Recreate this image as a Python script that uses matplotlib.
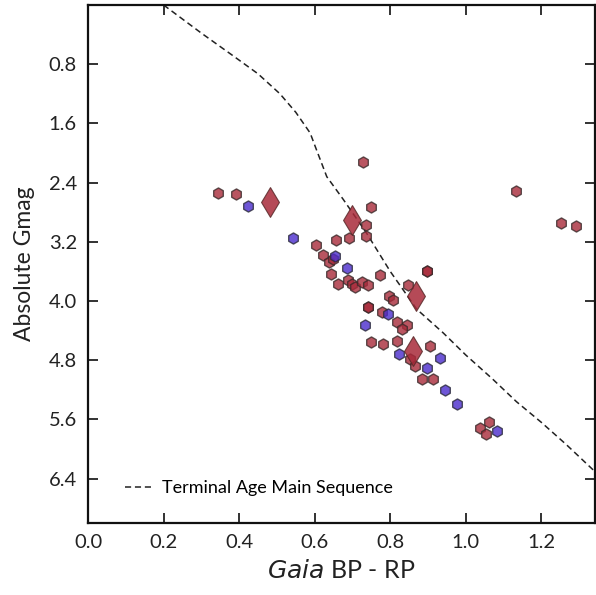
import matplotlib
matplotlib.use("Agg")
import matplotlib.pyplot as plt

plt.rcParams["font.family"] = ["Lato", "DejaVu Sans"]

# Terminal age main sequence track (BP-RP, absolute G)
tams_color = [0.20, 0.30, 0.385, 0.45, 0.508, 0.55, 0.588, 0.605, 0.632, 0.676,
              0.737, 0.80, 0.870, 0.94, 1.00, 1.07, 1.134, 1.20, 1.266, 1.345]
tams_gmag = [0.00, 0.38, 0.69, 0.93, 1.20, 1.45, 1.73, 1.96, 2.32, 2.63,
             3.08, 3.60, 4.11, 4.43, 4.73, 5.05, 5.36, 5.64, 5.94, 6.32]

# Red hexagons
red_color = [0.343, 0.391, 0.727, 1.134, 0.603, 0.656, 0.690, 0.750, 0.736, 0.737,
             0.623, 0.639, 0.648, 0.642, 0.662, 0.689, 0.698, 0.706, 0.724, 0.742,
             0.774, 0.896, 0.896, 0.847, 0.797, 0.806, 0.740, 0.740, 0.777, 0.819,
             0.845, 0.832, 0.750, 0.781, 0.818, 0.852, 0.865, 0.905, 0.883, 0.913,
             1.037, 1.061, 1.053, 1.251, 1.292]
red_gmag = [2.54, 2.56, 2.12, 2.52, 3.24, 3.18, 3.15, 2.73, 2.97, 3.12,
            3.38, 3.47, 3.43, 3.64, 3.77, 3.71, 3.77, 3.81, 3.74, 3.79,
            3.65, 3.59, 3.60, 3.79, 3.93, 3.98, 4.08, 4.08, 4.15, 4.28,
            4.32, 4.38, 4.55, 4.58, 4.54, 4.79, 4.88, 4.61, 5.06, 5.06,
            5.71, 5.64, 5.80, 2.95, 2.99]

# Blue hexagons
blue_color = [0.423, 0.542, 0.654, 0.685, 0.795, 0.734, 0.822, 0.933, 0.898, 0.945,
              0.976, 1.082]
blue_gmag = [2.72, 3.15, 3.39, 3.56, 4.18, 4.33, 4.71, 4.77, 4.90, 5.20,
             5.39, 5.75]

# Red diamonds
dia_color = [0.482, 0.700, 0.868, 0.861]
dia_gmag = [2.66, 2.90, 3.93, 4.68]

fig = plt.figure(figsize=(5.96, 5.95), dpi=100)
ax = fig.add_axes([0.1477, 0.121, 0.8506, 0.8706])

ax.plot(tams_color, tams_gmag, ls="--", color="#222222", lw=1.1,
        dashes=(4, 2.5), label="Terminal Age Main Sequence")

ax.scatter(red_color, red_gmag, marker="h", s=64, facecolor="#a82a3a",
           edgecolor="#3a2a2a", linewidths=1.0, alpha=0.8, zorder=3)
ax.scatter(blue_color, blue_gmag, marker="h", s=64, facecolor="#4a2ccc",
           edgecolor="#2a2a3a", linewidths=1.0, alpha=0.8, zorder=3)
ax.scatter(dia_color, dia_gmag, marker="d", s=230, facecolor="#a82a3a",
           edgecolor="#5a2a2a", linewidths=0.8, alpha=0.85, zorder=4)

ax.set_xlim(0.0, 1.342)
ax.set_ylim(7.0, 0.0)
ax.set_xticks([0.0, 0.2, 0.4, 0.6, 0.8, 1.0, 1.2])
ax.set_yticks([0.8, 1.6, 2.4, 3.2, 4.0, 4.8, 5.6, 6.4])
ax.tick_params(direction="in", top=True, right=True, length=7, width=1.3,
               labelsize=14.5, pad=8, colors="#222222")
for sp in ax.spines.values():
    sp.set_linewidth(1.6)
    sp.set_color("#111111")

ax.set_xlabel(r"$\it{Gaia}$ BP - RP", fontsize=18, labelpad=6, color="#222222")
ax.set_ylabel("Absolute Gmag", fontsize=16.5, labelpad=10, color="#222222")

ax.legend(loc="lower left", bbox_to_anchor=(0.04, 0.02), frameon=False,
          fontsize=13, handlelength=1.5, handletextpad=0.6)

fig.savefig("out.png", dpi=100)
